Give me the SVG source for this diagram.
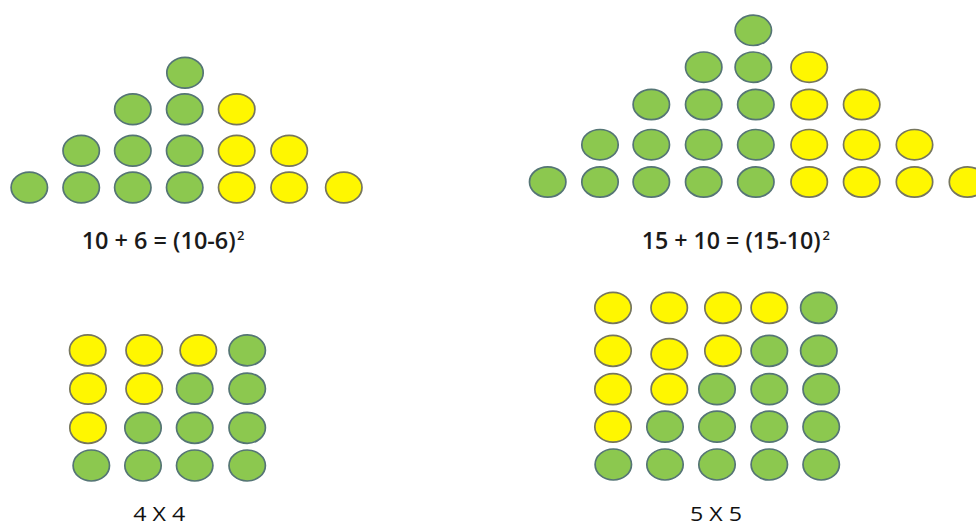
<svg xmlns="http://www.w3.org/2000/svg" width="976" height="527" viewBox="0 0 976 527">
<style>
  .g { fill: #8CC84F; stroke: #557575; stroke-width: 1.7; }
  .y { fill: #FFF700; stroke: #76765E; stroke-width: 1.7; }
  .lbl { font-family: "Open Sans", "Liberation Sans", sans-serif; font-size: 23px; font-weight: 600; fill: #1a1a1a; }
  .sup { font-family: "Open Sans", "Liberation Sans", sans-serif; font-size: 13px; font-weight: 600; fill: #1a1a1a; }
  .bl { font-family: "Open Sans", "Liberation Sans", sans-serif; font-size: 20px; font-weight: 400; fill: #111111; }
</style>
<rect width="976" height="527" fill="#ffffff"/>

<g id="triangle-10-6">
  <ellipse class="g" cx="185" cy="72.8" rx="18.2" ry="15.4"/>
  <ellipse class="g" cx="132.8" cy="109.2" rx="18.2" ry="15.4"/>
  <ellipse class="g" cx="184.7" cy="109.2" rx="18.2" ry="15.4"/>
  <ellipse class="y" cx="236.7" cy="109.2" rx="18.2" ry="15.4"/>
  <ellipse class="g" cx="81.2" cy="150.8" rx="18.2" ry="15.4"/>
  <ellipse class="g" cx="132.8" cy="150.8" rx="18.2" ry="15.4"/>
  <ellipse class="g" cx="184.7" cy="150.8" rx="18.2" ry="15.4"/>
  <ellipse class="y" cx="236.7" cy="150.8" rx="18.2" ry="15.4"/>
  <ellipse class="y" cx="289.2" cy="150.8" rx="18.2" ry="15.4"/>
  <ellipse class="g" cx="29.3" cy="187.5" rx="18.2" ry="15.4"/>
  <ellipse class="g" cx="81.2" cy="187.5" rx="18.2" ry="15.4"/>
  <ellipse class="g" cx="132.8" cy="187.5" rx="18.2" ry="15.4"/>
  <ellipse class="g" cx="184.7" cy="187.5" rx="18.2" ry="15.4"/>
  <ellipse class="y" cx="236.7" cy="187.5" rx="18.2" ry="15.4"/>
  <ellipse class="y" cx="289.2" cy="187.5" rx="18.2" ry="15.4"/>
  <ellipse class="y" cx="343.8" cy="187.5" rx="18.2" ry="15.4"/>
</g>

<g id="triangle-15-10">
  <ellipse class="g" cx="753.3" cy="30.3" rx="18.2" ry="15.2"/>
  <ellipse class="g" cx="703.7" cy="67.2" rx="18.2" ry="15.2"/>
  <ellipse class="g" cx="753.3" cy="67.2" rx="18.2" ry="15.2"/>
  <ellipse class="y" cx="809.2" cy="67.2" rx="18.2" ry="15.2"/>
  <ellipse class="g" cx="651.3" cy="104.5" rx="18.2" ry="15.2"/>
  <ellipse class="g" cx="703.7" cy="104.5" rx="18.2" ry="15.2"/>
  <ellipse class="g" cx="755.8" cy="104.5" rx="18.2" ry="15.2"/>
  <ellipse class="y" cx="809.2" cy="104.5" rx="18.2" ry="15.2"/>
  <ellipse class="y" cx="861.7" cy="104.5" rx="18.2" ry="15.2"/>
  <ellipse class="g" cx="600" cy="144.7" rx="18.2" ry="15.2"/>
  <ellipse class="g" cx="651.3" cy="144.7" rx="18.2" ry="15.2"/>
  <ellipse class="g" cx="703.7" cy="144.7" rx="18.2" ry="15.2"/>
  <ellipse class="g" cx="755.8" cy="144.7" rx="18.2" ry="15.2"/>
  <ellipse class="y" cx="809.2" cy="144.7" rx="18.2" ry="15.2"/>
  <ellipse class="y" cx="861.7" cy="144.7" rx="18.2" ry="15.2"/>
  <ellipse class="y" cx="914.5" cy="144.7" rx="18.2" ry="15.2"/>
  <ellipse class="g" cx="547.7" cy="182" rx="18.2" ry="15.2"/>
  <ellipse class="g" cx="600" cy="182" rx="18.2" ry="15.2"/>
  <ellipse class="g" cx="651.3" cy="182" rx="18.2" ry="15.2"/>
  <ellipse class="g" cx="703.7" cy="182" rx="18.2" ry="15.2"/>
  <ellipse class="g" cx="755.8" cy="182" rx="18.2" ry="15.2"/>
  <ellipse class="y" cx="809.2" cy="182" rx="18.2" ry="15.2"/>
  <ellipse class="y" cx="861.7" cy="182" rx="18.2" ry="15.2"/>
  <ellipse class="y" cx="914.5" cy="182" rx="18.2" ry="15.2"/>
  <ellipse class="y" cx="967.5" cy="182" rx="18.2" ry="15.2"/>
</g>

<g id="grid-4x4">
  <ellipse class="y" cx="87.7" cy="350.3" rx="18.2" ry="15.5"/>
  <ellipse class="y" cx="144.2" cy="350.3" rx="18.2" ry="15.5"/>
  <ellipse class="y" cx="198.3" cy="350.3" rx="18.2" ry="15.5"/>
  <ellipse class="g" cx="247.2" cy="350.3" rx="18.2" ry="15.5"/>
  <ellipse class="y" cx="88" cy="388.7" rx="18.2" ry="15.5"/>
  <ellipse class="y" cx="144.2" cy="388.7" rx="18.2" ry="15.5"/>
  <ellipse class="g" cx="194.7" cy="388.7" rx="18.2" ry="15.5"/>
  <ellipse class="g" cx="247.2" cy="388.7" rx="18.2" ry="15.5"/>
  <ellipse class="y" cx="88" cy="427.8" rx="18.2" ry="15.5"/>
  <ellipse class="g" cx="143" cy="427.8" rx="18.2" ry="15.5"/>
  <ellipse class="g" cx="194.7" cy="427.8" rx="18.2" ry="15.5"/>
  <ellipse class="g" cx="247.2" cy="427.8" rx="18.2" ry="15.5"/>
  <ellipse class="g" cx="91.3" cy="465.5" rx="18.2" ry="15.5"/>
  <ellipse class="g" cx="143" cy="465.5" rx="18.2" ry="15.5"/>
  <ellipse class="g" cx="194.7" cy="465.5" rx="18.2" ry="15.5"/>
  <ellipse class="g" cx="247.2" cy="465.5" rx="18.2" ry="15.5"/>
</g>

<g id="grid-5x5">
  <ellipse class="y" cx="613" cy="307.8" rx="18.2" ry="15.5"/>
  <ellipse class="y" cx="669.2" cy="307.8" rx="18.2" ry="15.5"/>
  <ellipse class="y" cx="723" cy="307.8" rx="18.2" ry="15.5"/>
  <ellipse class="y" cx="769.3" cy="307.8" rx="18.2" ry="15.5"/>
  <ellipse class="g" cx="818.8" cy="307.8" rx="18.2" ry="15.5"/>
  <ellipse class="y" cx="613" cy="350.8" rx="18.2" ry="15.5"/>
  <ellipse class="y" cx="669.3" cy="354.2" rx="18.2" ry="15.5"/>
  <ellipse class="y" cx="723" cy="350.8" rx="18.2" ry="15.5"/>
  <ellipse class="g" cx="769.3" cy="350.8" rx="18.2" ry="15.5"/>
  <ellipse class="g" cx="818.8" cy="350.8" rx="18.2" ry="15.5"/>
  <ellipse class="y" cx="613" cy="389.2" rx="18.2" ry="15.5"/>
  <ellipse class="y" cx="669.3" cy="389.2" rx="18.2" ry="15.5"/>
  <ellipse class="g" cx="717" cy="389.2" rx="18.2" ry="15.5"/>
  <ellipse class="g" cx="769.3" cy="389.2" rx="18.2" ry="15.5"/>
  <ellipse class="g" cx="821.2" cy="389.2" rx="18.2" ry="15.5"/>
  <ellipse class="y" cx="613" cy="426.7" rx="18.2" ry="15.5"/>
  <ellipse class="g" cx="665" cy="426.7" rx="18.2" ry="15.5"/>
  <ellipse class="g" cx="717" cy="426.7" rx="18.2" ry="15.5"/>
  <ellipse class="g" cx="769.3" cy="426.7" rx="18.2" ry="15.5"/>
  <ellipse class="g" cx="821.2" cy="426.7" rx="18.2" ry="15.5"/>
  <ellipse class="g" cx="613.3" cy="464.5" rx="18.2" ry="15.5"/>
  <ellipse class="g" cx="665" cy="464.5" rx="18.2" ry="15.5"/>
  <ellipse class="g" cx="717" cy="464.5" rx="18.2" ry="15.5"/>
  <ellipse class="g" cx="769.3" cy="464.5" rx="18.2" ry="15.5"/>
  <ellipse class="g" cx="821.2" cy="464.5" rx="18.2" ry="15.5"/>
</g>

<g id="labels">
  <text class="lbl" x="81.7" y="249" textLength="154" lengthAdjust="spacingAndGlyphs">10 + 6 = (10-6)</text>
  <text class="sup" x="237" y="240">2</text>
  <text class="lbl" x="641.7" y="249" textLength="179" lengthAdjust="spacingAndGlyphs">15 + 10 = (15-10)</text>
  <text class="sup" x="822.5" y="240">2</text>
  <text class="bl" x="133.3" y="521" textLength="52" lengthAdjust="spacingAndGlyphs">4 X 4</text>
  <text class="bl" x="690" y="521" textLength="52" lengthAdjust="spacingAndGlyphs">5 X 5</text>
</g>
</svg>
